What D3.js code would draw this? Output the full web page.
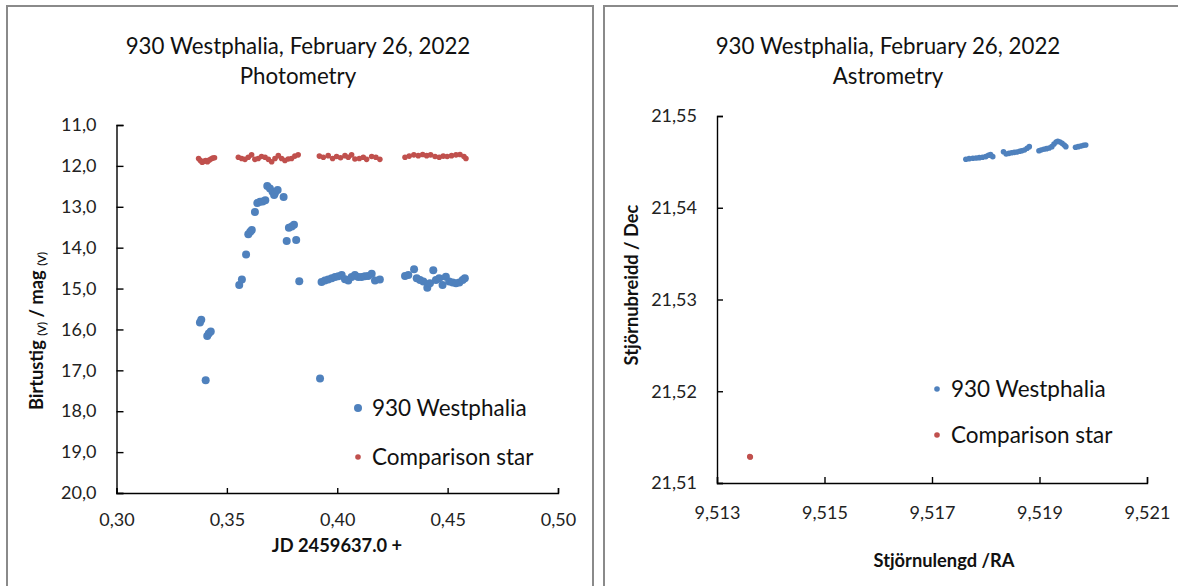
<!DOCTYPE html>
<html>
<head>
<meta charset="utf-8">
<script src="https://cdn.jsdelivr.net/npm/d3@7"></script>
<style>
  body { margin: 0; background: #fff; }
  svg { display: block; font-family: Lato, 'Liberation Sans', sans-serif; }
  .axis path, .axis line { stroke: #000; stroke-width: 1.4; }
  .axis text { font-size: 18px; fill: #222; font-family: Lato, sans-serif; }
  .title { font-size: 22.3px; fill: #111; text-anchor: middle; }
  .axis-label { font-size: 18.3px; font-weight: bold; fill: #111; text-anchor: middle; }
  .legend { font-size: 22.5px; fill: #111; }
</style>
</head>
<body>
<div id="wrapper"></div>
<script>
// photometry, 930 Westphalia (JD fraction, magnitude)
const westJD = [0.3378, 0.3384, 0.3404, 0.3411, 0.3418, 0.3427, 0.3556, 0.3568, 0.3587, 0.3597,
  0.3606, 0.3613, 0.3627, 0.3638, 0.3650, 0.3662, 0.3674, 0.3683, 0.3695, 0.3707,
  0.3714, 0.3718, 0.3730, 0.3757, 0.3771, 0.3781, 0.3794, 0.3804, 0.3814, 0.3828,
  0.3922, 0.3929, 0.3944, 0.3959, 0.3975, 0.3990, 0.4005, 0.4020, 0.4035, 0.4050,
  0.4065, 0.4080, 0.4095, 0.4110, 0.4125, 0.4140, 0.4156, 0.4171, 0.4193, 0.4307,
  0.4322, 0.4348, 0.4360, 0.4375, 0.4390, 0.4408, 0.4420, 0.4435, 0.4447, 0.4462,
  0.4477, 0.4492, 0.4507, 0.4523, 0.4538, 0.4553, 0.4568, 0.4578];
const westMag = [15.83, 15.76, 17.24, 16.16, 16.10, 16.05, 14.91, 14.78, 14.17, 13.67,
  13.61, 13.57, 13.13, 12.91, 12.88, 12.87, 12.84, 12.49, 12.55, 12.63,
  12.71, 12.66, 12.59, 12.76, 13.84, 13.51, 13.48, 13.44, 13.81, 14.82,
  17.20, 14.84, 14.80, 14.78, 14.75, 14.72, 14.70, 14.67, 14.77, 14.80,
  14.72, 14.67, 14.72, 14.72, 14.70, 14.69, 14.64, 14.80, 14.78, 14.69,
  14.67, 14.53, 14.75, 14.79, 14.83, 14.98, 14.87, 14.55, 14.79, 14.75,
  14.91, 14.71, 14.83, 14.85, 14.87, 14.85, 14.79, 14.75];

// photometry, comparison star
const compJD = [0.3372, 0.3380, 0.3388, 0.3396, 0.3404, 0.3412, 0.3420, 0.3428, 0.3436, 0.3444,
  0.3552, 0.3567, 0.3582, 0.3597, 0.3612, 0.3627, 0.3642, 0.3657, 0.3673, 0.3688,
  0.3703, 0.3718, 0.3733, 0.3748, 0.3763, 0.3778, 0.3793, 0.3808, 0.3823,
  0.3919, 0.3937, 0.3959, 0.3979, 0.3997, 0.4015, 0.4035, 0.4050, 0.4065, 0.4080,
  0.4100, 0.4118, 0.4133, 0.4156, 0.4175, 0.4193,
  0.4307, 0.4326, 0.4347, 0.4367, 0.4387, 0.4405, 0.4423, 0.4443, 0.4462, 0.4480,
  0.4498, 0.4518, 0.4538, 0.4556, 0.4574, 0.4583];
const compMag = [11.82, 11.87, 11.91, 11.89, 11.87, 11.90, 11.86, 11.83, 11.81, 11.80,
  11.79, 11.82, 11.84, 11.79, 11.73, 11.84, 11.82, 11.77, 11.79, 11.84,
  11.90, 11.82, 11.75, 11.82, 11.87, 11.83, 11.82, 11.76, 11.73,
  11.76, 11.79, 11.75, 11.82, 11.77, 11.80, 11.75, 11.79, 11.73, 11.83,
  11.82, 11.79, 11.84, 11.77, 11.79, 11.84,
  11.79, 11.76, 11.73, 11.75, 11.72, 11.75, 11.73, 11.77, 11.79, 11.76,
  11.77, 11.75, 11.73, 11.72, 11.77, 11.82];

// astrometry, 930 Westphalia (RA, Dec)
const westRA = [9.51763, 9.51769, 9.51776, 9.51782, 9.51788, 9.51794, 9.51800, 9.51805, 9.51809, 9.51813,
  9.51833, 9.51838, 9.51843, 9.51848, 9.51853, 9.51858, 9.51863, 9.51867, 9.51872, 9.51877, 9.51881,
  9.51899, 9.51903, 9.51908, 9.51913, 9.51918, 9.51923, 9.51927, 9.51931, 9.51934, 9.51938,
  9.51942, 9.51946, 9.51949,
  9.51967, 9.51972, 9.51977, 9.51982, 9.51986];
const westDec = [21.54528, 21.54535, 21.54539, 21.54542, 21.54546, 21.54550, 21.54557, 21.54572, 21.54579, 21.54557,
  21.54611, 21.54586, 21.54593, 21.54600, 21.54604, 21.54608, 21.54615, 21.54622, 21.54629, 21.54648, 21.54666,
  21.54622, 21.54629, 21.54637, 21.54644, 21.54651, 21.54666, 21.54695, 21.54717, 21.54724, 21.54717,
  21.54702, 21.54684, 21.54666,
  21.54659, 21.54666, 21.54673, 21.54680, 21.54684];

// astrometry, comparison star
const compRA = [9.51361, 9.51362];
const compDec = [21.51287, 21.51283];

const magTicks = [11, 12, 13, 14, 15, 16, 17, 18, 19, 20];
const jdTicks = [0.30, 0.35, 0.40, 0.45, 0.50];
const decTicks = [21.51, 21.52, 21.53, 21.54, 21.55];
const raTicks = [9.513, 9.515, 9.517, 9.519, 9.521];

const seriesNames = ['930 Westphalia', 'Comparison star'];
const titleLine = '930 Westphalia, February 26, 2022';

const colors = { west: '#4f81bd', comp: '#c0504d' };
const locale = d3.formatLocale({ decimal: ',', thousands: '.', grouping: [3], currency: ['', ''] });

// 1. Draw canvas

const wrapper = d3
  .select('#wrapper')
  .append('svg')
  .attr('width', 1178)
  .attr('height', 586);

wrapper.append('rect').attr('width', 1178).attr('height', 586).attr('fill', '#fff');

// the two panel frames
wrapper.append('rect')
  .attr('x', 7).attr('y', 6).attr('width', 586).attr('height', 620)
  .attr('fill', 'none').attr('stroke', '#8a8a8a').attr('stroke-width', 2);
wrapper.append('rect')
  .attr('x', 604).attr('y', 6).attr('width', 620).attr('height', 620)
  .attr('fill', 'none').attr('stroke', '#8a8a8a').attr('stroke-width', 2);

function drawTitle(cx, sub) {
  wrapper.append('text').attr('class', 'title').attr('x', cx).attr('y', 54).text(titleLine);
  wrapper.append('text').attr('class', 'title').attr('x', cx).attr('y', 84).text(sub);
}

function drawLegend(x, y1, y2, r1, r2) {
  wrapper.append('circle').attr('cx', x).attr('cy', y1).attr('r', r1).attr('fill', colors.west);
  wrapper.append('text').attr('class', 'legend').attr('x', x + 14).attr('y', y1)
    .attr('dy', '0.35em').text(seriesNames[0]);
  wrapper.append('circle').attr('cx', x).attr('cy', y2).attr('r', r2).attr('fill', colors.comp);
  wrapper.append('text').attr('class', 'legend').attr('x', x + 14).attr('y', y2)
    .attr('dy', '0.35em').text(seriesNames[1]);
}

// 2. Photometry panel

function drawPhotometry() {
  const xScale = d3.scaleLinear().domain([0.30, 0.50]).range([116.5, 558]);
  const yScale = d3.scaleLinear().domain([11, 20]).range([125, 493]);

  const yAxisGenerator = d3.axisLeft(yScale)
    .tickValues(magTicks)
    .tickFormat(locale.format('.1f'))
    .tickSizeInner(-7).tickSizeOuter(-7).tickPadding(20);
  wrapper.append('g').attr('class', 'axis')
    .attr('transform', `translate(${xScale(0.30)},0)`)
    .call(yAxisGenerator);

  const xAxisGenerator = d3.axisBottom(xScale)
    .tickValues(jdTicks)
    .tickFormat(locale.format('.2f'))
    .tickSizeInner(-5).tickSizeOuter(-5).tickPadding(20);
  wrapper.append('g').attr('class', 'axis')
    .attr('transform', `translate(0,${yScale(20)})`)
    .call(xAxisGenerator);

  const west = westJD.map((d, i) => ({ x: d, y: westMag[i] }));
  const comp = compJD.map((d, i) => ({ x: d, y: compMag[i] }));

  wrapper.append('g').selectAll('circle').data(comp).join('circle')
    .attr('cx', (d) => xScale(d.x)).attr('cy', (d) => yScale(d.y))
    .attr('r', 2.8).attr('fill', colors.comp);
  wrapper.append('g').selectAll('circle').data(west).join('circle')
    .attr('cx', (d) => xScale(d.x)).attr('cy', (d) => yScale(d.y))
    .attr('r', 4).attr('fill', colors.west);

  drawTitle(298, 'Photometry');

  wrapper.append('text').attr('class', 'axis-label')
    .attr('x', 337).attr('y', 552).text('JD 2459637.0 +');

  // y label with small (V) subscripts
  const yLabel = wrapper.append('text').attr('class', 'axis-label')
    .attr('transform', 'translate(43,331) rotate(-90)');
  yLabel.append('tspan').text('Birtustig ');
  yLabel.append('tspan').attr('font-size', 11).attr('dy', 3).text('(V)');
  yLabel.append('tspan').attr('dy', -3).text(' / mag ');
  yLabel.append('tspan').attr('font-size', 11).attr('dy', 3).text('(V)');

  drawLegend(358, 408, 457, 4, 2.8);
}

// 3. Astrometry panel

function drawAstrometry() {
  const xScale = d3.scaleLinear().domain([9.513, 9.521]).range([717, 1147]);
  const yScale = d3.scaleLinear().domain([21.51, 21.55]).range([483, 116]);

  const yAxisGenerator = d3.axisLeft(yScale)
    .tickValues(decTicks)
    .tickFormat(locale.format('.2f'))
    .tickSizeInner(-6).tickSizeOuter(-6).tickPadding(20);
  wrapper.append('g').attr('class', 'axis')
    .attr('transform', `translate(${xScale(9.513)},0)`)
    .call(yAxisGenerator);

  const xAxisGenerator = d3.axisBottom(xScale)
    .tickValues(raTicks)
    .tickFormat(locale.format('.3f'))
    .tickSizeInner(-6).tickSizeOuter(-6).tickPadding(23);
  wrapper.append('g').attr('class', 'axis')
    .attr('transform', `translate(0,${yScale(21.51)})`)
    .call(xAxisGenerator);

  const west = westRA.map((d, i) => ({ x: d, y: westDec[i] }));
  const comp = compRA.map((d, i) => ({ x: d, y: compDec[i] }));

  wrapper.append('g').selectAll('circle').data(west).join('circle')
    .attr('cx', (d) => xScale(d.x)).attr('cy', (d) => yScale(d.y))
    .attr('r', 2.8).attr('fill', colors.west);
  wrapper.append('g').selectAll('circle').data(comp).join('circle')
    .attr('cx', (d) => xScale(d.x)).attr('cy', (d) => yScale(d.y))
    .attr('r', 2.8).attr('fill', colors.comp);

  drawTitle(888, 'Astrometry');

  wrapper.append('text').attr('class', 'axis-label')
    .attr('x', 944).attr('y', 567).text('Stjörnulengd /RA');
  wrapper.append('text').attr('class', 'axis-label')
    .attr('transform', 'translate(638,285) rotate(-90)')
    .text('Stjörnubreidd / Dec');

  drawLegend(937, 389, 435, 2.8, 2.8);
}

drawPhotometry();
drawAstrometry();
</script>
</body>
</html>
